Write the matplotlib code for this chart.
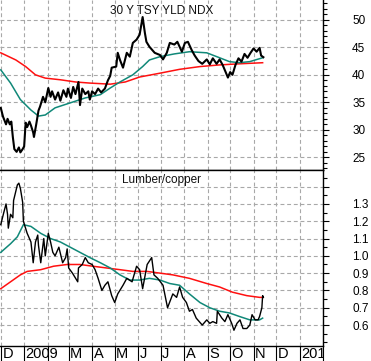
import numpy as np
import pandas as pd
import matplotlib
matplotlib.use('Agg')
import matplotlib.pyplot as plt
import matplotlib.dates as mdates
from matplotlib.ticker import MultipleLocator, FixedLocator
from matplotlib.transforms import Bbox, TransformedBbox, blended_transform_factory, offset_copy

start = pd.Timestamp('2008-12-01')

# 30 Y TSY YLD NDX (days since 2008-12-01, value)
tsy_days = [0, 3, 7, 9, 12, 14, 16, 18, 21, 24, 26, 29, 31, 33, 35, 38, 40, 43, 44, 47,
            50, 52, 56, 59, 63, 66, 68, 72, 76, 79, 83, 87, 89, 93, 96, 99, 103, 105, 108, 112,
            116, 118, 121, 125, 129, 133, 138, 142, 145, 147, 153, 155, 158, 162, 167, 171, 175, 180, 184, 188,
            191, 193, 197, 204, 211, 215, 220, 224, 230, 234, 240, 244, 248, 253, 257, 262, 267, 273, 277, 281,
            286, 290, 294, 298, 301, 304, 307, 311, 315, 319, 323, 327, 331, 335, 339, 343, 345, 348]
tsy_vals = [34.0, 32.4, 31.0, 32.0, 31.0, 31.5, 28.7, 26.5, 26.0, 26.8, 25.9, 26.5, 27.0, 31.3, 30.5, 31.5, 30.8, 29.5, 28.7, 31.0,
            33.5, 34.2, 36.0, 35.0, 37.6, 36.0, 37.0, 35.5, 36.8, 35.3, 37.2, 36.0, 37.5, 35.8, 37.8, 36.5, 38.7, 34.5, 37.5, 36.5,
            37.0, 35.5, 37.0, 36.5, 37.5, 36.8, 37.5, 39.0, 39.8, 41.3, 41.5, 44.0, 42.7, 41.3, 44.0, 43.3, 45.8, 46.4, 47.3, 50.5,
            47.6, 46.0, 45.1, 44.0, 43.6, 42.8, 44.0, 45.8, 45.5, 46.0, 44.2, 45.8, 46.0, 44.5, 43.5, 42.5, 42.0, 42.8, 41.9, 43.0,
            42.0, 42.8, 41.8, 40.5, 39.5, 40.5, 40.0, 41.8, 43.0, 42.4, 43.8, 43.1, 44.0, 44.8, 44.2, 44.9, 43.5, 43.2]

tsy_fast_days = [0, 13, 26, 40, 50, 59, 72, 92, 112, 132, 145, 158, 175, 188, 197, 211, 230, 250, 273, 290, 303, 316, 330, 347]
tsy_fast_vals = [40.9, 38.5, 35.5, 33.6, 32.5, 32.7, 34.0, 34.9, 35.8, 36.4, 37.6, 38.7, 40.0, 41.5, 42.7, 43.3, 43.8, 44.2,
                 44.0, 43.1, 42.4, 42.2, 42.4, 43.1]

tsy_slow_days = [0, 20, 33, 46, 59, 79, 99, 118, 145, 165, 184, 211, 237, 264, 290, 316, 347]
tsy_slow_vals = [44.0, 42.7, 41.5, 40.0, 39.4, 39.1, 38.7, 38.5, 38.3, 38.7, 39.6, 40.3, 41.0, 41.5, 41.8, 42.0, 42.2]

# Lumber/copper ratio
lc_days = [0, 4, 7, 9, 10, 13, 16, 17, 22, 24, 26, 29, 30, 35, 40, 43, 46, 49, 50, 53,
           57, 59, 63, 66, 69, 72, 77, 82, 86, 88, 90, 95, 102, 103, 108, 112, 116, 121, 125, 129,
           134, 138, 142, 147, 151, 155, 162, 167, 174, 180, 184, 188, 194, 200, 203, 208, 215, 221, 228, 233,
           237, 241, 246, 250, 254, 259, 263, 267, 273, 277, 281, 286, 287, 293, 297, 301, 306, 309, 313, 317,
           321, 326, 330, 333, 337, 341, 343, 346, 347, 348]
lc_vals = [1.18, 1.25, 1.30, 1.24, 1.16, 1.24, 1.22, 1.32, 1.41, 1.42, 1.39, 1.31, 1.20, 1.13, 1.08, 0.96, 1.08, 1.12, 1.06, 0.96,
           1.10, 1.00, 1.13, 1.08, 1.02, 1.00, 1.05, 0.96, 0.99, 1.04, 0.93, 0.90, 0.85, 0.93, 0.95, 0.99, 0.96, 0.95, 0.92, 0.87,
           0.80, 0.83, 0.85, 0.77, 0.73, 0.78, 0.83, 0.87, 0.85, 0.94, 0.92, 0.81, 0.95, 0.99, 0.89, 0.87, 0.83, 0.70, 0.78, 0.76,
           0.82, 0.76, 0.73, 0.68, 0.69, 0.64, 0.62, 0.60, 0.63, 0.61, 0.62, 0.61, 0.68, 0.64, 0.62, 0.66, 0.61, 0.57, 0.61, 0.63,
           0.58, 0.58, 0.60, 0.66, 0.63, 0.63, 0.65, 0.70, 0.77, 0.76]

lc_fast_days = [0, 13, 22, 30, 40, 53, 66, 79, 92, 105, 118, 132, 145, 158, 171, 184, 197, 211, 224, 237,
                250, 264, 277, 290, 303, 316, 330, 343, 347]
lc_fast_vals = [1.02, 1.07, 1.11, 1.18, 1.17, 1.13, 1.10, 1.08, 1.05, 1.02, 0.99, 0.96, 0.93, 0.89, 0.86, 0.86, 0.87, 0.86, 0.84, 0.83,
                0.78, 0.73, 0.70, 0.68, 0.67, 0.65, 0.63, 0.63, 0.64]

lc_slow_days = [0, 13, 26, 35, 53, 70, 88, 105, 122, 140, 158, 175, 194, 211, 228, 250, 273, 290, 307, 326, 343, 347]
lc_slow_vals = [0.81, 0.85, 0.89, 0.91, 0.92, 0.94, 0.95, 0.95, 0.94, 0.93, 0.92, 0.91, 0.91, 0.90, 0.89, 0.87, 0.84, 0.82,
                0.79, 0.77, 0.76, 0.76]

month_labels = ['D', '2009', '', 'M', 'A', 'M', 'J', 'J', 'A', 'S', 'O', 'N', 'D', '2010']


def to_dates(days):
    return start + pd.to_timedelta(days, unit='D')


W, H = 371, 361
fig = plt.figure(figsize=(W / 100, H / 100), dpi=100)
fig.patch.set_facecolor('white')

ax1 = fig.add_axes([0, 1 - 170 / H, 323 / W, 170 / H])
ax2 = fig.add_axes([0, 15 / H, 323 / W, 176 / H])

font = ['Liberation Sans', 'DejaVu Sans']
teal = '#108878'
red = '#ff1010'
grid_kw = dict(color='#a8a8a8', linestyle=(0, (3.5, 2.5)), linewidth=0.8)

xmin, xmax = start - pd.Timedelta(days=1), pd.Timestamp('2010-02-01')

ax1.plot(to_dates(tsy_slow_days), tsy_slow_vals, color=red, lw=1.1, zorder=3)
ax1.plot(to_dates(tsy_fast_days), tsy_fast_vals, color=teal, lw=1.1, zorder=3)
ax1.plot(to_dates(tsy_days), tsy_vals, color='black', lw=1.5, zorder=4)

ax2.plot(to_dates(lc_slow_days), lc_slow_vals, color=red, lw=1.1, zorder=3)
ax2.plot(to_dates(lc_fast_days), lc_fast_vals, color=teal, lw=1.1, zorder=3)
ax2.plot(to_dates(lc_days), lc_vals, color='black', lw=1.0, zorder=4)

ax1.set_ylim(22.7, 53.6)
ax2.set_ylim(0.479, 1.496)

for ax in (ax1, ax2):
    ax.set_xlim(xmin, xmax)
    ax.xaxis.set_major_locator(mdates.MonthLocator())
    ax.set_xticklabels([])
    ax.yaxis.tick_right()
    ax.grid(True, which='major', **grid_kw)
    ax.spines['left'].set_visible(False)
    for s in ('right', 'bottom', 'top'):
        ax.spines[s].set_color('black')
        ax.spines[s].set_linewidth(1.0)
    ax.tick_params(axis='y', which='both', direction='out', colors='black', pad=17,
                   labelsize=8.5, width=0.8)
    ax.tick_params(axis='y', which='major', length=4)
    ax.tick_params(axis='y', which='minor', length=3)

ax1.spines['top'].set_visible(False)
ax1.tick_params(axis='x', length=0)
ax1.yaxis.set_minor_locator(MultipleLocator(1))
ax1.set_yticks([25, 30, 35, 40, 45, 50])
ax1.set_yticklabels(['25', '30', '35', '40', '45', '50'], family=font, fontsize=8.5)

ax2.yaxis.set_major_locator(FixedLocator([0.6, 0.7, 0.8, 0.9, 1.0, 1.1, 1.2, 1.3, 1.4]))
ax2.yaxis.set_minor_locator(MultipleLocator(0.05))
ax2.set_yticklabels(['0.6', '0.7', '0.8', '0.9', '1.0', '1.1', '1.2', '1.3', ''], family=font, fontsize=8.5)
ax2.tick_params(axis='x', which='major', direction='out', length=11, width=0.8, color='black')

ax1.text(0.5, 1 - 11 / 170, '30 Y TSY YLD NDX', transform=ax1.transAxes, ha='center', va='center',
         fontsize=8.5, family=font, color='#111111')
ax2.text(0.5, 1 - 10 / 176, 'Lumber/copper', transform=ax2.transAxes, ha='center', va='center',
         fontsize=8.5, family=font, color='#111111')

month_starts = pd.date_range('2008-12-01', periods=len(month_labels), freq='MS')
trans = offset_copy(blended_transform_factory(ax2.transData, ax2.transAxes), fig=fig, x=1.5, y=0, units='dots')
clip = TransformedBbox(Bbox([[0, 0], [323 / W, 1]]), fig.transFigure)
for d, lab in zip(month_starts, month_labels):
    if not lab:
        continue
    t = ax2.text(mdates.date2num(d), -7.5 / 176, lab, transform=trans, ha='left', va='center',
                 fontsize=10.5, family=['Liberation Sans Narrow', 'Liberation Sans'], color='black',
                 clip_on=True)
    t.set_clip_box(clip)

fig.savefig('out.png', dpi=100, facecolor='white')
